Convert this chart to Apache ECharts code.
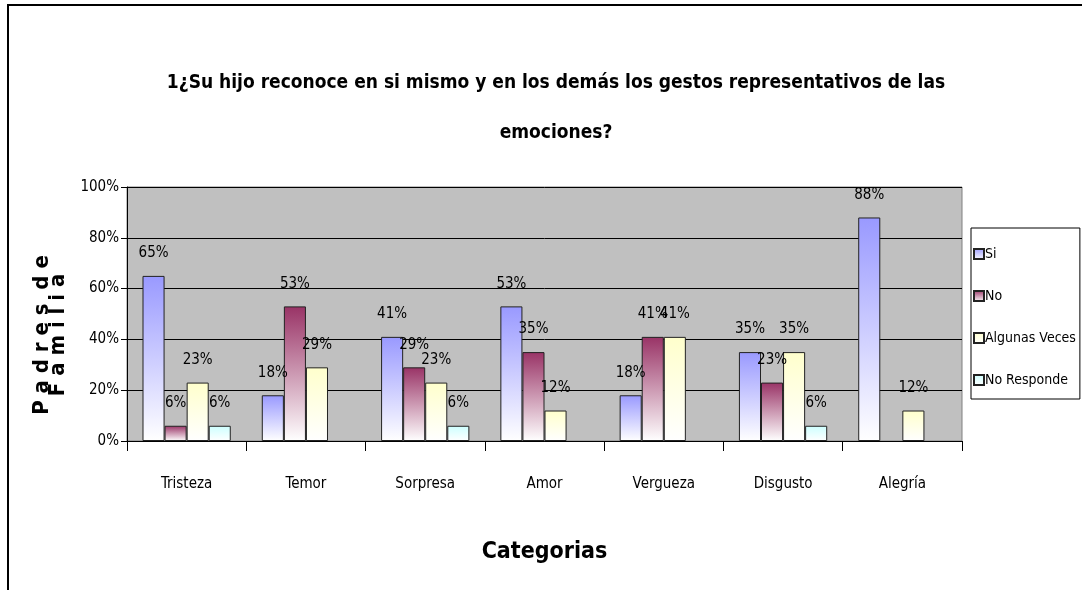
<!DOCTYPE html>
<html>
<head>
<meta charset="utf-8">
<script src="https://cdn.jsdelivr.net/npm/echarts@6/dist/echarts.min.js"></script>
<style>
  html, body { margin: 0; padding: 0; background: #fff; }
  #chart { width: 1082px; height: 590px; }
</style>
</head>
<body>
<div id="chart"></div>
<script>
var categorias = ['Tristeza', 'Temor', 'Sorpresa', 'Amor', 'Vergueza', 'Disgusto', 'Alegría']
var si = [65, 18, 41, 53, 18, 35, 88]
var no = [6, 53, 29, 35, 41, 23, null]
var algunasVeces = [23, 29, 23, 12, 41, 35, 12]
var noResponde = [6, null, 6, null, null, 6, null]
var yTicks = ['0%', '20%', '40%', '60%', '80%', '100%']

var fuente = '"DejaVu Sans Condensed", "Liberation Sans", sans-serif'

function degradado(c) {
  return new echarts.graphic.LinearGradient(0, 0, 0, 1, [
    { offset: 0, color: c },
    { offset: 1, color: '#ffffff' },
  ])
}

function serie(nombre, datos, color) {
  return {
    name: nombre,
    type: 'bar',
    data: datos,
    barGap: '0%',
    barCategoryGap: '26%',
    itemStyle: {
      color: degradado(color),
      borderColor: '#222',
      borderWidth: 1,
    },
    label: {
      show: true,
      position: 'top',
      distance: 15,
      formatter: '{c}%',
      color: '#000',
      fontFamily: fuente,
      fontSize: 15,
    },
  }
}

var chart = echarts.init(document.getElementById('chart'))
chart.setOption({
  animation: false,
  textStyle: { fontFamily: fuente },
  title: {
    text: '1¿Su hijo reconoce en si mismo y en los demás los gestos representativos de las\nemociones?',
    left: 551,
    top: 53,
    textAlign: 'center',
    textStyle: {
      fontFamily: fuente,
      fontSize: 19,
      fontWeight: 'bold',
      color: '#000',
      lineHeight: 50,
    },
  },
  graphic: [
    {
      type: 'rect',
      shape: { x: 8, y: 5, width: 1100, height: 600 },
      style: { fill: 'none', stroke: '#000', lineWidth: 2 },
    },
    {
      type: 'text',
      x: 50,
      y: 335,
      rotation: Math.PI / 2,
      style: {
        text: 'P a d r e s  d e\nF a m i l i a',
        fontFamily: fuente,
        fontSize: 22,
        fontWeight: 'bold',
        lineHeight: 16,
        align: 'center',
        verticalAlign: 'middle',
        fill: '#000',
      },
    },
  ],
  legend: {
    orient: 'vertical',
    left: 971,
    top: 228,
    padding: [19, 4, 12, 2],
    itemGap: 28,
    itemWidth: 10,
    itemHeight: 10,
    borderColor: '#000',
    borderWidth: 1,
    icon: 'rect',
    textStyle: { fontFamily: fuente, fontSize: 14, color: '#000', padding: [0, 0, 0, -4] },
  },
  grid: {
    left: 127,
    right: 120,
    top: 187,
    bottom: 149,
    show: true,
    backgroundColor: '#c0c0c0',
    borderColor: '#808080',
    borderWidth: 1,
  },
  xAxis: {
    type: 'category',
    data: categorias,
    name: 'Categorias',
    nameLocation: 'middle',
    nameGap: 100,
    nameTextStyle: { fontFamily: fuente, fontSize: 23, fontWeight: 'bold', color: '#000' },
    axisLine: { lineStyle: { color: '#000', width: 1 } },
    axisTick: { show: true, length: 10, lineStyle: { color: '#000' } },
    axisLabel: { color: '#000', fontSize: 15, margin: 36, fontFamily: fuente },
  },
  yAxis: {
    type: 'value',
    min: 0,
    max: 100,
    interval: 20,
    axisLine: { show: true, lineStyle: { color: '#000' } },
    axisTick: { show: true, length: 6, lineStyle: { color: '#000' } },
    axisLabel: {
      color: '#000',
      fontSize: 15,
      margin: 8,
      fontFamily: fuente,
      formatter: function (v) { return yTicks[v / 20] },
    },
    splitLine: { lineStyle: { color: '#000', width: 1 } },
  },
  series: [
    serie('Si', si, '#9999ff'),
    serie('No', no, '#993366'),
    serie('Algunas Veces', algunasVeces, '#ffffcc'),
    serie('No Responde', noResponde, '#ccffff'),
  ],
})
</script>
</body>
</html>
